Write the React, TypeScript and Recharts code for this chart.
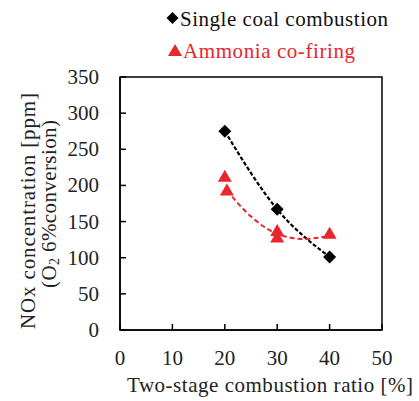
import { ComposedChart, Line, Scatter, XAxis, YAxis, ReferenceArea } from "recharts";

const FONT = "Liberation Serif, DejaVu Serif, Times New Roman, serif";
const RED = "#e8262b";

// measured points
const coalRatio = [20, 30, 40];
const coalNox = [275, 167, 101];
const ammoniaRatio = [20, 20.4, 30, 30, 40];
const ammoniaNox = [212, 193, 137, 128, 133];

// dashed trend lines
const coalTrendRatio = [20, 30, 40];
const coalTrendNox = [275, 167, 101];
const ammoniaTrendRatio = [20.4, 25, 30, 35, 40];
const ammoniaTrendNox = [193, 157, 133, 126, 130];

const xTicks = [0, 10, 20, 30, 40, 50];
const yTicks = [0, 50, 100, 150, 200, 250, 300, 350];

const zip = (xs: number[], ys: number[]) => xs.map((x, i) => ({ x, y: ys[i] }));

const coalPts = zip(coalRatio, coalNox);
const ammoniaPts = zip(ammoniaRatio, ammoniaNox);
const coalTrend = zip(coalTrendRatio, coalTrendNox);
const ammoniaTrend = zip(ammoniaTrendRatio, ammoniaTrendNox);

const Diamond = ({ cx, cy }: any) => (
  <polygon points={`${cx},${cy - 6.5} ${cx + 6.5},${cy} ${cx},${cy + 6.5} ${cx - 6.5},${cy}`} fill="#000" />
);
const Triangle = ({ cx, cy }: any) => (
  <polygon points={`${cx},${cy - 7} ${cx + 7},${cy + 5} ${cx - 7},${cy + 5}`} fill={RED} />
);

const YTick = ({ x, y, payload }: any) => (
  <g>
    <line x1={x} x2={x + 6} y1={y} y2={y} stroke="#000" strokeWidth={1.5} />
    <text x={x - 21} y={y + 7} textAnchor="end" fontSize={21} fontFamily={FONT} fill="#222">
      {payload.value}
    </text>
  </g>
);

const XTick = ({ x, y, payload }: any) => (
  <g>
    <line x1={x} x2={x} y1={y} y2={y - 6} stroke="#000" strokeWidth={1.5} />
    <text x={x} y={y + 35} textAnchor="middle" fontSize={21} fontFamily={FONT} fill="#222">
      {payload.value}
    </text>
  </g>
);

const LegendBox = () => (
  <svg width={419} height={70} style={{ position: "absolute", left: 0, top: 0 }}>
    <g fontFamily={FONT} fontSize={21}>
      <polygon points="172.5,12 178.5,18 172.5,24 166.5,18" fill="#000" />
      <text x={180} y={25.5} fill="#111" textLength={208} lengthAdjust="spacing">
        Single coal combustion
      </text>
      <polygon points="175,44 182,56 168,56" fill={RED} />
      <text x={183} y={57.5} fill={RED} textLength={172} lengthAdjust="spacing">
        Ammonia co-firing
      </text>
    </g>
  </svg>
);

const YTitle = () => (
  <g fontFamily={FONT} fontSize={21} fill="#222">
    <text
      x={28}
      y={211}
      transform="rotate(-90 28 211)"
      textAnchor="middle"
      dominantBaseline="central"
      textLength={236}
      lengthAdjust="spacing"
    >
      NOx concentration [ppm]
    </text>
    <text
      x={49}
      y={204}
      transform="rotate(-90 49 204)"
      textAnchor="middle"
      dominantBaseline="central"
      textLength={168}
      lengthAdjust="spacing"
    >
      (O<tspan dy={5} fontSize={14}>2</tspan>
      <tspan dy={-5}> 6%conversion)</tspan>
    </text>
  </g>
);

const XTitle = () => (
  <text
    x={270}
    y={392}
    textAnchor="middle"
    fontFamily={FONT}
    fontSize={21}
    fill="#222"
    textLength={286}
    lengthAdjust="spacing"
  >
    Two-stage combustion ratio [%]
  </text>
);

export default function App() {
  return (
    <div style={{ position: "absolute", left: 0, top: 0, width: 419, height: 401, background: "#fff" }}>
      <ComposedChart width={419} height={401} margin={{ top: 77, right: 37, bottom: 41, left: 0 }}>
        <XAxis
          dataKey="x"
          type="number"
          domain={[0, 50]}
          ticks={xTicks}
          height={30}
          tickSize={0}
          tickMargin={0}
          tickLine={false}
          axisLine={{ stroke: "#000", strokeWidth: 1.5 }}
          tick={<XTick />}
          label={{ content: () => <XTitle /> }}
        />
        <YAxis
          type="number"
          domain={[0, 350]}
          ticks={yTicks}
          width={120}
          tickSize={0}
          tickMargin={0}
          tickLine={false}
          axisLine={{ stroke: "#000", strokeWidth: 1.5 }}
          tick={<YTick />}
          label={{ content: () => <YTitle /> }}
        />
        <ReferenceArea x1={0} x2={50} y1={0} y2={350} fill="none" stroke="#000" strokeWidth={1.5} />
        <Line
          data={coalTrend}
          dataKey="y"
          type="natural"
          stroke="#000"
          strokeWidth={2.2}
          strokeDasharray="4 2"
          dot={false}
          activeDot={false}
          isAnimationActive={false}
        />
        <Line
          data={ammoniaTrend}
          dataKey="y"
          type="monotone"
          stroke={RED}
          strokeWidth={2}
          strokeDasharray="5 3"
          dot={false}
          activeDot={false}
          isAnimationActive={false}
        />
        <Scatter data={coalPts} dataKey="y" shape={<Diamond />} isAnimationActive={false} />
        <Scatter data={ammoniaPts} dataKey="y" shape={<Triangle />} isAnimationActive={false} />
      </ComposedChart>
      <LegendBox />
    </div>
  );
}
